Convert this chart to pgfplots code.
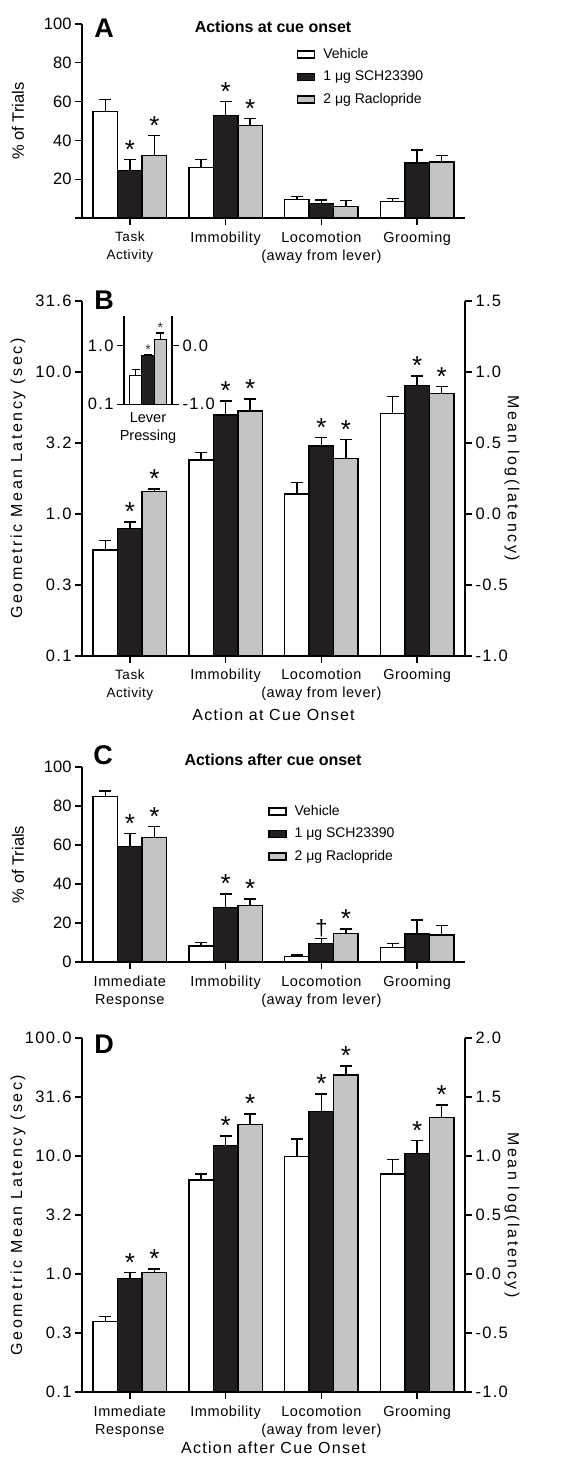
\documentclass[border=0pt]{standalone}
\usepackage{pgfplots}
\pgfplotsset{compat=1.18}
\usepackage{pgfplotstable}
\usepackage{fontspec}
\setmainfont{Liberation Sans}
\newfontfamily\spA[LetterSpace=4]{Liberation Sans}
\newfontfamily\spB[LetterSpace=8]{Liberation Sans}
\newfontfamily\spC[LetterSpace=16]{Liberation Sans}

\definecolor{barblack}{RGB}{35,31,32}
\definecolor{bargray}{RGB}{195,196,198}
\newcommand{\lf}{\fontsize{14bp}{16bp}\selectfont}
\newcommand{\dg}{\fontsize{22bp}{22bp}\selectfont †}

% Panel A: % of trials, actions at cue onset (value, top of error bar)
\pgfplotstableread{
x veh vehT sch schT rac racT sigS sigR
0 55.0 61.0 24.3 30.0 32.3 42.6 * *
1 26.0 30.0 53.0 60.0 47.7 51.3 * *
2 9.6 11.0 7.5 9.2 5.8 8.9 {} {}
3 8.4 10.0 28.4 35.0 28.9 32.3 {} {}
}\tabA
% Panel B: geometric mean latency (sec)
\pgfplotstableread{
x veh vehT sch schT rac racT sigS sigR
0 0.557 0.648 0.79 0.88 1.435 1.50 * *
1 2.40 2.70 4.98 6.25 5.30 6.46 * *
2 1.38 1.67 3.01 3.44 2.47 3.36 * *
3 5.12 6.70 8.05 9.37 7.03 7.87 * *
}\tabB
% Inset: lever pressing
\pgfplotstableread{
x veh vehT sch schT rac racT sigS sigR
0 0.307 0.384 0.665 0.69 1.28 1.62 * *
}\tabI
% Panel C: % of trials, actions after cue onset
\pgfplotstableread{
x veh vehT sch schT rac racT sigS sigR
0 84.8 87.7 59.1 66.0 64.0 69.4 * *
1 8.2 9.9 28.0 34.9 28.9 32.3 * *
2 2.7 3.6 9.6 12.0 14.7 16.9 {\dg} *
3 7.3 9.6 14.4 21.5 13.8 18.6 {} {}
}\tabC
% Panel D: geometric mean latency (sec)
\pgfplotstableread{
x veh vehT sch schT rac racT sigS sigR
0 0.394 0.435 0.92 1.03 1.03 1.10 * *
1 6.26 7.04 12.2 14.8 18.6 22.7 * *
2 9.86 13.9 23.7 33.5 48.6 57.9 * *
3 7.04 9.37 10.5 13.6 21.1 27.1 * *
}\tabD

\pgfplotsset{
  panel/.style={
    scale only axis, width=383bp,
    xmin=-0.5, xmax=3.5, clip=false,
    axis x line*=bottom, axis y line*=left,
    axis line style={line width=1.5bp, black},
    tick style={line width=1.3bp, black},
    tick align=outside, major tick length=7bp,
    xtick={0,1,2,3},
    ybar, bar width=24.5bp,
    xticklabel style={align=center, font=\fontsize{14.5bp}{18bp}\spA, yshift=-3bp},
    yticklabel style={font=\fontsize{16.5bp}{18bp}\selectfont},
    ylabel style={at={(rel axis cs:-0.167,0.5)}, anchor=center, font=\fontsize{16.5bp}{18bp}\selectfont},
    legend style={draw=none, fill=none, anchor=north west, inner sep=0pt,
      font=\lf, row sep=7.5bp, column sep=7bp,
      nodes={inner sep=1bp, text height=10bp, text depth=3bp}},
    legend cell align=left,
  },
  rightaxis/.style={
    scale only axis, width=383bp,
    xmin=-0.5, xmax=3.5, axis x line=none, axis y line*=right,
    axis line style={line width=1.5bp, black},
    tick style={line width=1.3bp, black},
    tick align=outside, major tick length=7bp, xtick=\empty,
    yticklabel style={font=\fontsize{16.5bp}{18bp}\spB},
    ylabel={Mean log(latency)},
    ylabel style={at={(rel axis cs:1.123,0.5)}, anchor=center, rotate=180, font=\fontsize{16bp}{18bp}\spC},
  },
  errb/.style={error bars/y dir=plus, error bars/y explicit,
     error bars/error bar style={line width=1.3bp, black},
     error bars/error mark options={rotate=90, mark size=6bp, line width=1.3bp, black}},
  vehbar/.style={fill=white, draw=black, line width=1.3bp, bar shift=-24.5bp, errb},
  schbar/.style={fill=barblack, draw=black, line width=1.3bp, bar shift=0bp, errb},
  racbar/.style={fill=bargray, draw=black, line width=1.3bp, bar shift=24.5bp, errb},
  sigplot/.style={draw=none, fill=none, nodes near coords, point meta=explicit symbolic,
     every node near coord/.append style={font=\fontsize{26bp}{26bp}\selectfont, anchor=south, inner sep=1bp, yshift=0bp, text=black}},
}

\newcommand{\legimgs}{%
  \addlegendimage{legend image code/.code={\draw[fill=white,draw=black,line width=1.3bp] (0bp,-3.5bp) rectangle (17bp,3.5bp);}}
  \addlegendimage{legend image code/.code={\draw[fill=barblack,draw=black,line width=1.3bp] (0bp,-3.5bp) rectangle (17bp,3.5bp);}}
  \addlegendimage{legend image code/.code={\draw[fill=bargray,draw=black,line width=1.3bp] (0bp,-3.5bp) rectangle (17bp,3.5bp);}}
}

\begin{document}
\begin{tikzpicture}
\useasboundingbox (0,0) rectangle (587bp,1458bp);

%%%%%%%%%%%%%%%% Panel A
\begin{axis}[panel, at={(82bp,1240bp)}, height=194bp,
  ymin=0, ymax=100, ytick={0,20,40,60,80,100}, yticklabels={,20,40,60,80,100},
  xticklabels={{\fontsize{13.5bp}{18bp}\selectfont Task\\\fontsize{13.5bp}{18bp}\selectfont Activity}, Immobility, Locomotion\\(away from lever), Grooming},
  ylabel={\% of Trials},
  legend style={at={(rel axis cs:0.561,0.882)}},
]
\legimgs
\addplot[vehbar] table[x=x, y=veh, y error expr=\thisrow{vehT}-\thisrow{veh}] {\tabA};
\addplot[schbar] table[x=x, y=sch, y error expr=\thisrow{schT}-\thisrow{sch}] {\tabA};
\addplot[racbar] table[x=x, y=rac, y error expr=\thisrow{racT}-\thisrow{rac}] {\tabA};
\addplot[sigplot, bar shift=0bp] table[x=x, y=schT, meta=sigS] {\tabA};
\addplot[sigplot, bar shift=24.5bp] table[x=x, y=racT, meta=sigR] {\tabA};
\legend{{\lf Vehicle}, {\lf 1 μg SCH23390}, {\lf 2 μg Raclopride}}
\end{axis}

%%%%%%%%%%%%%%%% Panel B
\begin{axis}[panel, at={(82bp,802bp)}, height=355bp,
  ymode=log, log origin=infty, ymin=0.1, ymax=31.6228, yminorticks=false,
  ytick={0.1,0.316228,1,3.16228,10,31.6228}, yticklabels={0.1,0.3,1.0,3.2,10.0,31.6},
  yticklabel style={font=\fontsize{16.5bp}{18bp}\spB},
  xticklabels={{\fontsize{13.5bp}{18bp}\selectfont Task\\\fontsize{13.5bp}{18bp}\selectfont Activity}, Immobility, Locomotion\\(away from lever), Grooming},
  ylabel={Geometric Mean Latency (sec)},
  ylabel style={font=\fontsize{16bp}{18bp}\spC},
  xlabel={Action at Cue Onset},
  xlabel style={at={(rel axis cs:0.5,-0.166)}, anchor=center, font=\fontsize{16bp}{18bp}\spB},
]
\addplot[vehbar] table[x=x, y=veh, y error expr=\thisrow{vehT}-\thisrow{veh}] {\tabB};
\addplot[schbar] table[x=x, y=sch, y error expr=\thisrow{schT}-\thisrow{sch}] {\tabB};
\addplot[racbar] table[x=x, y=rac, y error expr=\thisrow{racT}-\thisrow{rac}] {\tabB};
\addplot[sigplot, bar shift=0bp] table[x=x, y=schT, meta=sigS] {\tabB};
\addplot[sigplot, bar shift=24.5bp] table[x=x, y=racT, meta=sigR] {\tabB};
\end{axis}
\begin{axis}[rightaxis, at={(82bp,802bp)}, height=355bp,
  ymin=-1, ymax=1.5, ytick={-1,-0.5,0,0.5,1,1.5}, yticklabels={-1.0,-0.5,0.0,0.5,1.0,1.5}]
\end{axis}

%%%%%%%%%%%%%%%% Inset
\begin{axis}[scale only axis, width=48bp, height=88.3bp, at={(124bp,1053.7bp)},
  xmin=-0.65, xmax=0.65, clip=false,
  ymode=log, log origin=infty, ymin=0.1, ymax=3.16228, yminorticks=false,
  axis x line*=bottom, axis y line*=left,
  axis line style={line width=1.5bp, black},
  tick style={line width=1.3bp, black}, tick align=outside, major tick length=7bp,
  ybar, bar width=12.3bp,
  xtick={0}, xticklabels={Lever\\Pressing}, xtick style={draw=none},
  xticklabel style={align=center, font=\fontsize{14.5bp}{18bp}\selectfont, yshift=2bp},
  ytick={0.1,1}, yticklabels={0.1,1.0},
  yticklabel style={font=\fontsize{16.5bp}{18bp}\spB},
]
\addplot[fill=white, draw=black, line width=1.2bp, bar shift=-12.3bp, errb, error bars/error mark options={rotate=90, mark size=4bp, line width=1.2bp, black}]
  table[x=x, y=veh, y error expr=\thisrow{vehT}-\thisrow{veh}] {\tabI};
\addplot[fill=barblack, draw=black, line width=1.2bp, bar shift=0bp, errb, error bars/error mark options={rotate=90, mark size=4bp, line width=1.2bp, black}]
  table[x=x, y=sch, y error expr=\thisrow{schT}-\thisrow{sch}] {\tabI};
\addplot[fill=bargray, draw=black, line width=1.2bp, bar shift=12.3bp, errb, error bars/error mark options={rotate=90, mark size=4bp, line width=1.2bp, black}]
  table[x=x, y=rac, y error expr=\thisrow{racT}-\thisrow{rac}] {\tabI};
\addplot[sigplot, bar shift=0bp, every node near coord/.append style={font=\fontsize{14bp}{14bp}\selectfont, text=black!80, yshift=-1bp}] table[x=x, y=schT, meta=sigS] {\tabI};
\addplot[sigplot, bar shift=12.3bp, every node near coord/.append style={font=\fontsize{14bp}{14bp}\selectfont, text=black!80, yshift=-1bp}] table[x=x, y=racT, meta=sigR] {\tabI};
\end{axis}
\begin{axis}[scale only axis, width=48bp, height=88.3bp, at={(124bp,1053.7bp)},
  xmin=-0.65, xmax=0.65, axis x line=none, axis y line*=right,
  axis line style={line width=1.5bp, black},
  tick style={line width=1.3bp, black}, tick align=outside, major tick length=7bp, xtick=\empty,
  ymin=-1, ymax=0.5, ytick={-1,0}, yticklabels={-1.0,0.0},
  yticklabel style={font=\fontsize{16.5bp}{18bp}\spB},
]
\end{axis}

%%%%%%%%%%%%%%%% Panel C
\begin{axis}[panel, at={(82bp,496bp)}, height=195bp,
  ymin=0, ymax=100, ytick={0,20,40,60,80,100},
  yticklabels={0,20,40,60,80,100},
  xticklabels={Immediate\\Response, Immobility, Locomotion\\(away from lever), Grooming},
  ylabel={\% of Trials},
  legend style={at={(rel axis cs:0.486,0.811)}},
]
\legimgs
\addplot[vehbar] table[x=x, y=veh, y error expr=\thisrow{vehT}-\thisrow{veh}] {\tabC};
\addplot[schbar] table[x=x, y=sch, y error expr=\thisrow{schT}-\thisrow{sch}] {\tabC};
\addplot[racbar] table[x=x, y=rac, y error expr=\thisrow{racT}-\thisrow{rac}] {\tabC};
\addplot[sigplot, bar shift=0bp] table[x=x, y=schT, meta=sigS] {\tabC};
\addplot[sigplot, bar shift=24.5bp] table[x=x, y=racT, meta=sigR] {\tabC};
\legend{{\lf Vehicle}, {\lf 1 μg SCH23390}, {\lf 2 μg Raclopride}}
\end{axis}

%%%%%%%%%%%%%%%% Panel D
\begin{axis}[panel, at={(82bp,66bp)}, height=354bp,
  ymode=log, log origin=infty, ymin=0.1, ymax=100, yminorticks=false,
  ytick={0.1,0.316228,1,3.16228,10,31.6228,100}, yticklabels={0.1,0.3,1.0,3.2,10.0,31.6,100.0},
  yticklabel style={font=\fontsize{16.5bp}{18bp}\spB},
  xticklabels={Immediate\\Response, Immobility, Locomotion\\(away from lever), Grooming},
  ylabel={Geometric Mean Latency (sec)},
  ylabel style={font=\fontsize{16bp}{18bp}\spC},
  xlabel={Action after Cue Onset},
  xlabel style={at={(rel axis cs:0.5,-0.158)}, anchor=center, font=\fontsize{16bp}{18bp}\spB},
]
\addplot[vehbar] table[x=x, y=veh, y error expr=\thisrow{vehT}-\thisrow{veh}] {\tabD};
\addplot[schbar] table[x=x, y=sch, y error expr=\thisrow{schT}-\thisrow{sch}] {\tabD};
\addplot[racbar] table[x=x, y=rac, y error expr=\thisrow{racT}-\thisrow{rac}] {\tabD};
\addplot[sigplot, bar shift=0bp] table[x=x, y=schT, meta=sigS] {\tabD};
\addplot[sigplot, bar shift=24.5bp] table[x=x, y=racT, meta=sigR] {\tabD};
\end{axis}
\begin{axis}[rightaxis, at={(82bp,66bp)}, height=354bp,
  ymin=-1, ymax=2, ytick={-1,-0.5,0,0.5,1,1.5,2}, yticklabels={-1.0,-0.5,0.0,0.5,1.0,1.5,2.0}]
\end{axis}

%%%%%%%%%%%%%%%% Panel letters and titles
\node[font=\fontsize{27bp}{27bp}\selectfont\bfseries] at (104bp,1430bp) {A};
\node[font=\fontsize{16bp}{18bp}\selectfont\bfseries] at (273bp,1431bp) {Actions at cue onset};
\node[font=\fontsize{27bp}{27bp}\selectfont\bfseries] at (104bp,1158bp) {B};
\node[font=\fontsize{27bp}{27bp}\selectfont\bfseries] at (103bp,703bp) {C};
\node[font=\fontsize{16bp}{18bp}\selectfont\bfseries] at (273bp,698bp) {Actions after cue onset};
\node[font=\fontsize{27bp}{27bp}\selectfont\bfseries] at (104bp,414bp) {D};
\end{tikzpicture}
\end{document}
